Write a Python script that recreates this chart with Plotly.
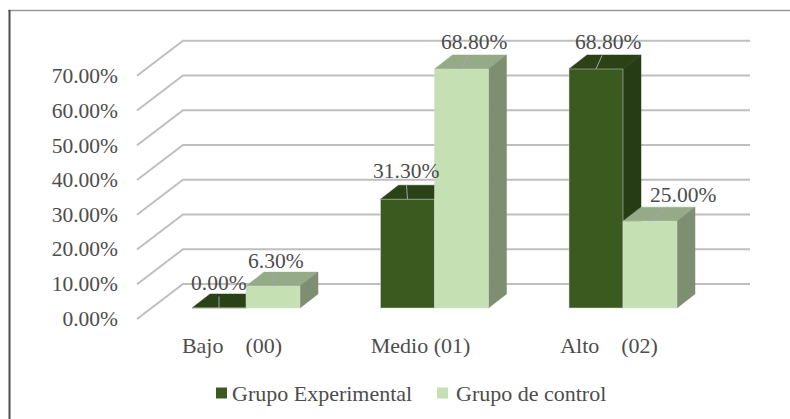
import plotly.graph_objects as go

categories = ["Bajo\u00a0\u00a0\u00a0\u00a0(00)", "Medio (01)", "Alto\u00a0\u00a0\u00a0\u00a0(02)"]
experimental = [0.0, 31.3, 68.8]
control = [6.3, 68.8, 25.0]
y_ticks = [0, 10, 20, 30, 40, 50, 60, 70]
series_names = ["Grupo Experimental", "Grupo de control"]

W, H = 790, 419
PX_X = 188.5      # px per category
PX_Y = 3.474      # px per percent
C0, Y0 = 246.0, 308.0   # pixel of first category centre / zero of the bar plane
BAR_W = 54 / PX_X
DX, DY = 18 / PX_X, 14 / PX_Y  # bar depth
FONT = "Liberation Serif"
TXT = "#4d4d4d"
POS = [0, 1, 2]
COL_DARK, COL_LIGHT = "#3a5a20", "#c5e0b3"


def xr(c0):
    return [(0 - c0) / PX_X, (W - c0) / PX_X]


def yr(y0, s=PX_Y):
    return [(y0 - H) / s, y0 / s]


fig = go.Figure()

# front-plane axes: only carry the tick labels
fig.add_trace(go.Scatter(x=POS, y=[0, 0, 0], xaxis="x3", yaxis="y3", mode="markers",
                         marker=dict(opacity=0), showlegend=False, hoverinfo="skip"))

# grid: wall line + receding floor-to-front diagonal
B_DX, B_DY = 31.5 / PX_X, 24 / PX_Y
F_DX, F_DY = -14.5 / PX_X, -11 / PX_Y
L = (183 - C0) / PX_X
R = (750 - C0) / PX_X
for t in y_ticks:
    fig.add_trace(go.Scatter(
        x=[L + F_DX - B_DX, L, R],
        y=[t + F_DY, t + B_DY, t + B_DY],
        mode="lines", line=dict(color="#bfbfbf", width=2), showlegend=False, hoverinfo="skip"))


def faces(vals, offset, top_col, side_col):
    for p, v in zip(POS, vals):
        a = p + offset
        b = a + BAR_W
        fig.add_trace(go.Scatter(
            x=[a, b, b + DX, a + DX, a], y=[v, v, v + DY, v + DY, v], mode="lines",
            fill="toself", fillcolor=top_col, line=dict(color=top_col, width=0.5),
            showlegend=False, hoverinfo="skip"))
        fig.add_trace(go.Scatter(
            x=[b, b + DX, b + DX, b, b], y=[v, v + DY, DY, 0, v], mode="lines",
            fill="toself", fillcolor=side_col, line=dict(color=side_col, width=0.5),
            showlegend=False, hoverinfo="skip"))


faces(experimental, -BAR_W, "#2a4216", "#263c14")
faces(control, 0, "#95ab87", "#7d8f70")

# front faces as real bars, in an overlaid subplot
for name, vals, col, off in [(series_names[0], experimental, COL_DARK, -BAR_W),
                             (series_names[1], control, COL_LIGHT, 0)]:
    fig.add_trace(go.Bar(x=[p + off + BAR_W / 2 for p in POS], y=vals, width=BAR_W, name=name,
                         marker=dict(color=col, line=dict(color="#d9d9d9", width=0.5)),
                         xaxis="x2", yaxis="y2", showlegend=False, hoverinfo="skip"))

# value labels with leader lines; key is (series, category)
label_points = [(experimental, -0.5), (control, 0.5)]
label_off = {(0, 0): (0, -25), (0, 1): (-2, -28), (1, 0): (3, -25),
             (1, 1): (12, -27), (0, 2): (12, -27), (1, 2): (33, -26)}
annots = []
for s, (vals, side) in enumerate(label_points):
    for p, v in zip(POS, vals):
        ox, oy = label_off[(s, p)]
        annots.append(dict(
            x=p + side * BAR_W, y=v, xref="x2", yref="y2", text=f"{v:.2f}%",
            showarrow=True, arrowhead=0, arrowwidth=1, arrowcolor="#a6a6a6", ax=ox, ay=oy,
            font=dict(family=FONT, size=21.5, color=TXT)))

# legend row
for name, col, tx in zip(series_names, [COL_DARK, COL_LIGHT], [230, 454]):
    annots.append(dict(x=tx / W, y=(H - 393) / H, xref="paper", yref="paper", xanchor="left",
                       yanchor="middle", showarrow=False, text=name,
                       font=dict(family=FONT, size=22, color=TXT)))

shapes = [
    dict(type="rect", xref="paper", yref="paper", x0=sx / W, x1=(sx + 11) / W,
         y0=(H - 398.5) / H, y1=(H - 387.5) / H, fillcolor=col, line=dict(width=0))
    for col, sx in zip([COL_DARK, COL_LIGHT], [216, 437])
] + [
    dict(type="line", xref="paper", yref="paper", x0=8 / W, x1=1, y0=(H - 10.5) / H, y1=(H - 10.5) / H,
         line=dict(color="#999999", width=1.5)),
    dict(type="line", xref="paper", yref="paper", x0=9.5 / W, x1=9.5 / W, y0=0, y1=(H - 10) / H,
         line=dict(color="#4d4d4d", width=2)),
]

fig.update_layout(
    width=W, height=H, margin=dict(l=0, r=0, t=0, b=0, autoexpand=False), autosize=False,
    paper_bgcolor="white", plot_bgcolor="white", barmode="overlay", showlegend=False,
    annotations=annots, shapes=shapes,
    xaxis=dict(range=xr(C0), visible=False, fixedrange=True),
    yaxis=dict(range=yr(Y0), visible=False, fixedrange=True),
    xaxis2=dict(range=xr(C0), visible=False, overlaying="x", fixedrange=True),
    yaxis2=dict(range=yr(Y0), visible=False, overlaying="y", fixedrange=True),
    xaxis3=dict(range=xr(232.0), overlaying="x", tickvals=POS, ticktext=categories,
                showgrid=False, zeroline=False, showline=False, ticks="", anchor="free",
                position=(H - 330) / H, side="bottom",
                tickfont=dict(family=FONT, size=22, color=TXT), fixedrange=True),
    yaxis3=dict(range=yr(318.0, 3.46), overlaying="y", tickvals=y_ticks,
                ticktext=[f"{t:.2f}%" for t in y_ticks], showgrid=False, zeroline=False,
                showline=False, ticks="", anchor="free", position=118 / W, side="left",
                tickfont=dict(family=FONT, size=21.5, color=TXT), fixedrange=True),
)

fig.write_html("out.html", post_script="document.body.style.margin='0';",
               config={"displayModeBar": False})
